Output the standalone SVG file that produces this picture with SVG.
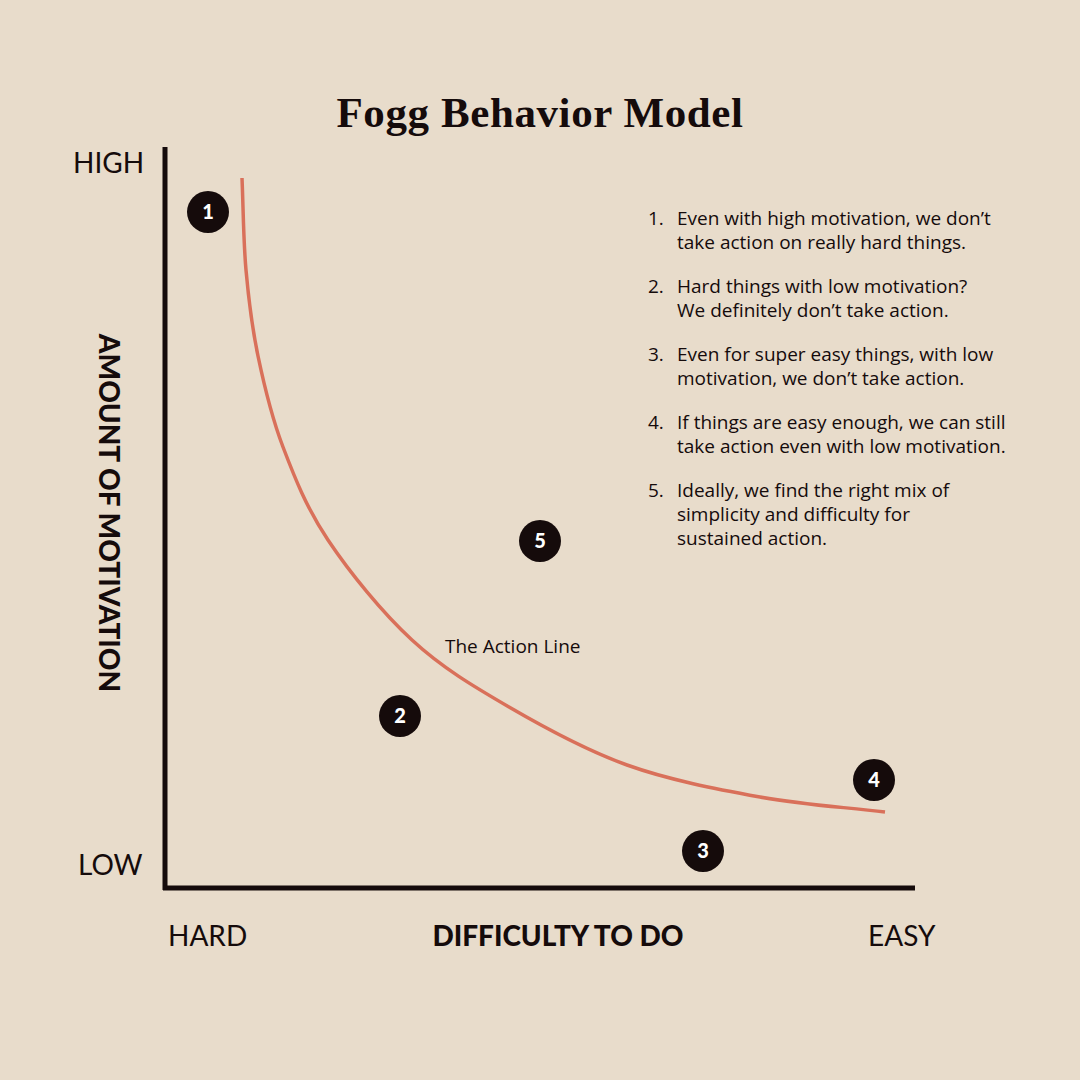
<svg xmlns="http://www.w3.org/2000/svg" width="1080" height="1080" viewBox="0 0 1080 1080">
<style>
.ax{font-family:Lato,"Noto Sans",sans-serif;font-size:28px;fill:#150b0b}
.axb{font-family:Lato,"Noto Sans",sans-serif;font-size:28px;font-weight:900;fill:#150b0b}
.li{font-family:"Open Sans","Noto Sans",sans-serif;font-size:19px;fill:#150b0b}
.num{font-family:Lato,"Noto Sans",sans-serif;font-size:20px;font-weight:900;fill:#ffffff;text-anchor:middle}
.dot{fill:#150b0b}
</style>
<rect width="1080" height="1080" fill="#e8dccb"/>
<text x="540" y="127" text-anchor="middle" font-family="Liberation Serif,serif" font-weight="bold" font-size="43" letter-spacing="0.6" fill="#150b0b">Fogg Behavior Model</text>
<g id="axes" stroke="#150b0b" stroke-width="5" fill="none">
<line x1="165" y1="147" x2="165" y2="890"/>
<line x1="163" y1="888" x2="915" y2="888"/>
</g>
<g id="connectors">
<path id="action-line" d="M242,178 C243.33,208.67 243.33,240.33 246,270 C248.67,299.67 251.83,326.5 258,356 C264.17,385.5 271.33,416.33 283,447 C294.67,477.67 306.5,507.83 328,540 C349.5,572.17 381.83,612.17 412,640 C442.17,667.83 473.17,686.17 509,707 C544.83,727.83 585.17,750 627,765 C668.83,780 717,789.17 760,797 C803,804.83 843.33,807 885,812" fill="none" stroke="#d9705a" stroke-width="3.5"/>
</g>
<text x="445" y="653" font-family="'Open Sans','Noto Sans',sans-serif" font-size="19" fill="#150b0b">The Action Line</text>
<text class="ax" x="73" y="173">HIGH</text>
<text class="ax" x="78" y="875">LOW</text>
<text class="ax" x="168" y="946">HARD</text>
<text class="axb" x="558" y="946" text-anchor="middle">DIFFICULTY TO DO</text>
<text class="ax" x="868" y="946">EASY</text>
<text class="axb" transform="translate(99,513) rotate(90)" text-anchor="middle">AMOUNT OF MOTIVATION</text>
<g id="m1"><circle class="dot" cx="208" cy="212" r="21"/><text class="num" x="208" y="219">1</text></g>
<g id="m2"><circle class="dot" cx="400" cy="716" r="21"/><text class="num" x="400" y="723">2</text></g>
<g id="m3"><circle class="dot" cx="703" cy="851" r="21"/><text class="num" x="703" y="858">3</text></g>
<g id="m4"><circle class="dot" cx="874" cy="780" r="21"/><text class="num" x="874" y="787">4</text></g>
<g id="m5"><circle class="dot" cx="540" cy="541" r="21"/><text class="num" x="540" y="548">5</text></g>
<g id="list">
<text class="li" x="648" y="225">1.</text>
<text class="li" x="677" y="225">Even with high motivation, we don’t</text>
<text class="li" x="677" y="249">take action on really hard things.</text>
<text class="li" x="648" y="293">2.</text>
<text class="li" x="677" y="293">Hard things with low motivation?</text>
<text class="li" x="677" y="317">We definitely don’t take action.</text>
<text class="li" x="648" y="361">3.</text>
<text class="li" x="677" y="361">Even for super easy things, with low</text>
<text class="li" x="677" y="385">motivation, we don’t take action.</text>
<text class="li" x="648" y="429">4.</text>
<text class="li" x="677" y="429">If things are easy enough, we can still</text>
<text class="li" x="677" y="453">take action even with low motivation.</text>
<text class="li" x="648" y="497">5.</text>
<text class="li" x="677" y="497">Ideally, we find the right mix of</text>
<text class="li" x="677" y="521">simplicity and difficulty for</text>
<text class="li" x="677" y="545">sustained action.</text>
</g>
</svg>
